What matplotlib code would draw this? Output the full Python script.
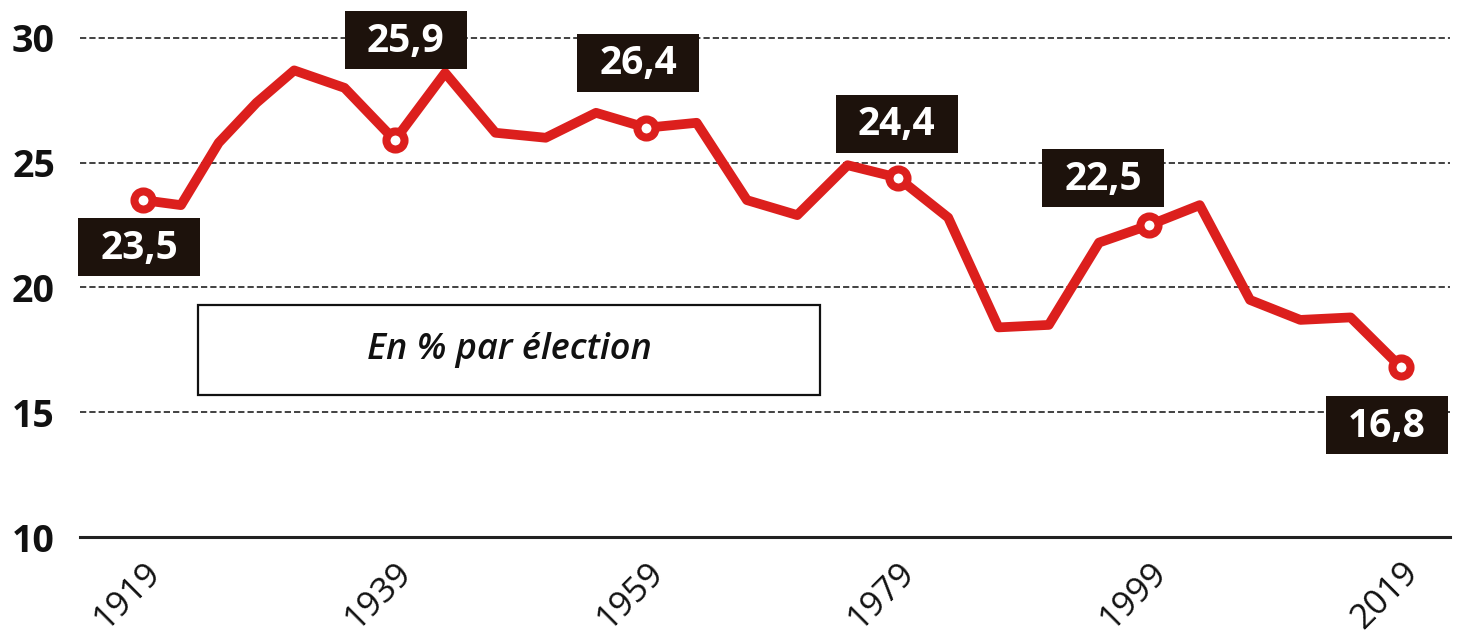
import matplotlib
matplotlib.use("Agg")
import matplotlib.pyplot as plt
from matplotlib.patches import Rectangle
from matplotlib.transforms import IdentityTransform

plt.rcParams['font.family'] = ['Open Sans', 'DejaVu Sans']
plt.rcParams['lines.scale_dashes'] = False

# ---- data ----
years = [1919, 1922, 1925, 1928, 1931, 1935, 1939, 1943, 1947, 1951, 1955,
         1959, 1963, 1967, 1971, 1975, 1979, 1983, 1987, 1991, 1995, 1999,
         2003, 2007, 2011, 2015, 2019]
share = [23.5, 23.3, 25.8, 27.4, 28.7, 28.0, 25.9, 28.6, 26.2, 26.0, 27.0,
         26.4, 26.6, 23.5, 22.9, 24.9, 24.4, 22.8, 18.4, 18.5, 21.8, 22.5,
         23.3, 19.5, 18.7, 18.8, 16.8]
label_years = [1919, 1939, 1959, 1979, 1999, 2019]
label_texts = ["23,5", "25,9", "26,4", "24,4", "22,5", "16,8"]
x_ticks = [1919, 1939, 1959, 1979, 1999, 2019]
y_ticks = [10, 15, 20, 25, 30]
note_text = "En % par élection"

# ---- style ----
RED = "#dc1f1d"
DARK = "#1d120c"
W, H = 1457, 635
fig = plt.figure(figsize=(W / 100, H / 100), dpi=100)
ax = fig.add_axes([80 / W, 0.15433, 1370 / W, 0.8095])
ax.set_xlim(1913.97, 2022.9)
ax.set_ylim(10, 30.6)

for s in ["top", "left", "right"]:
    ax.spines[s].set_visible(False)
ax.spines["bottom"].set_linewidth(2.2)
ax.spines["bottom"].set_color("#222222")

for yv in y_ticks[1:]:
    ax.axhline(yv, color="#333333", lw=1.3, linestyle=(0, (4.5, 2.2)), zorder=1)

ax.set_yticks(y_ticks)
ax.set_yticklabels([str(v) for v in y_ticks], fontsize=27, fontweight="bold", color="#111111")
ax.tick_params(axis="y", length=0, pad=18)
ax.set_xticks(x_ticks)
ax.set_xticklabels([str(v) for v in x_ticks], fontsize=25, color="#111111",
                   rotation=45, rotation_mode="anchor", ha="right", va="top")
ax.tick_params(axis="x", length=0, pad=13)

mark_idx = [years.index(y) for y in label_years]
ax.plot(years, share, color=RED, lw=7, solid_joinstyle="round", solid_capstyle="round",
        marker="o", markevery=mark_idx, ms=13, mfc="white", mec=RED, mew=5.8, zorder=3)

# label boxes (pixel offsets from the marked point: dx, dy in image pixels, +dy = down)
offsets = [(-4, 47), (11, -100), (-8, -65), (-1, -54), (-46, -47), (-14, 58)]
bw, bh = 122, 58
for yr, txt, (dx, dy) in zip(label_years, label_texts, offsets):
    px, py = ax.transData.transform((yr, share[years.index(yr)]))
    cx, cy = px + dx, py - dy
    fig.patches.append(Rectangle((cx - bw / 2, cy - bh / 2), bw, bh, transform=IdentityTransform(),
                                 facecolor=DARK, edgecolor="none", zorder=5, figure=fig))
    fig.text(cx, cy - 1, txt, transform=IdentityTransform(), ha="center", va="center",
             fontsize=28, fontweight="bold", color="white", zorder=6)

# note box
ax.add_patch(Rectangle((0.0861, 0.2763), 0.540 - 0.0861, 0.4514 - 0.2763, transform=ax.transAxes,
                       facecolor="white", edgecolor="#111111", lw=1.6, zorder=4))
ax.text(0.3131, 0.3638, note_text, transform=ax.transAxes, ha="center", va="center",
        fontsize=26, fontstyle="italic", fontweight="semibold", color="#111111", zorder=5)

fig.savefig("out.png", dpi=100)
